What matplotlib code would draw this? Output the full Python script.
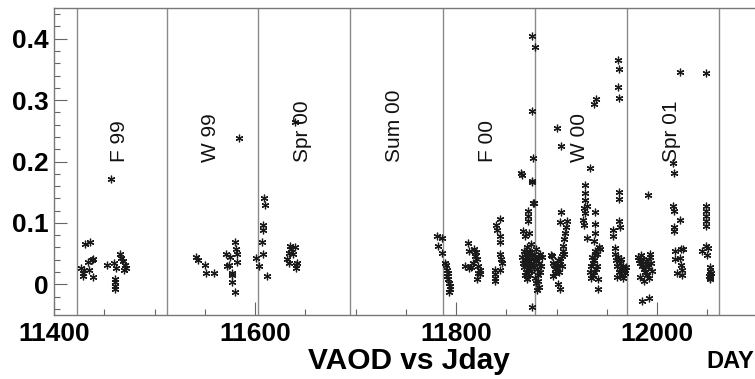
import matplotlib
matplotlib.use("Agg")
import matplotlib.pyplot as plt
from matplotlib.ticker import MultipleLocator

# ---- data (Julian day, VAOD) ----
f99_day = [11427, 11430, 11429, 11429, 11431, 11436, 11434, 11439, 11438, 11435, 11439, 11453, 11457,
           11460, 11462, 11461, 11461, 11461, 11461, 11466, 11467, 11469, 11470, 11471, 11472]
f99_val = [.027, .023, .013, .019, .066, .069, .036, .042, .039, .023, .012, .031, .172,
           .034, .027, .008, .003, -.003, -.007, .050, .043, .038, .024, .031, .027]

w99_day = [11541, 11543, 11550, 11551, 11559, 11571, 11575, 11580, 11581, 11582, 11582, 11572,
           11574, 11577, 11577, 11577, 11580, 11584]
w99_val = [.045, .040, .031, .019, .018, .049, .044, .069, .057, .050, .036, .029,
           .032, .019, .015, .003, -.012, .239]

spr00_day = [11601, 11604, 11607, 11608, 11608, 11608, 11609, 11610, 11612, 11632, 11634, 11634,
             11635, 11636, 11638, 11640, 11641, 11641, 11642, 11640]
spr00_val = [.043, .029, .069, .096, .089, .050, .141, .129, .013, .042, .034, .051,
             .062, .057, .049, .060, .032, .026, .035, .265]

f00_day = [11781, 11782, 11786, 11786, 11789, 11790, 11791, 11792, 11791, 11792, 11793, 11794, 11794, 11793,
           11809, 11812, 11813, 11813, 11817, 11818, 11819, 11821, 11821, 11822, 11822, 11824, 11824, 11815, 11820,
           11839, 11839, 11839, 11839, 11840, 11841, 11844, 11844, 11844, 11844, 11845, 11846, 11844,
           11865, 11866, 11869, 11867, 11872, 11872, 11872, 11873, 11876, 11876, 11876, 11877, 11877, 11878,
           11879, 11876, 11876,
           11866, 11867, 11868, 11868, 11869, 11870, 11870, 11871, 11871, 11872, 11872, 11873, 11873, 11874,
           11874, 11875, 11875, 11876, 11877, 11878, 11879, 11880, 11880, 11881, 11881, 11882, 11882, 11883,
           11883, 11884, 11884, 11885, 11886, 11869, 11871, 11873, 11875, 11878, 11880, 11882]
f00_val = [.079, .063, .076, .051, .035, .031, .024, .018, .013, .008, .002, -.003, -.008, -.012,
           .030, .068, .055, .026, .035, .058, .046, .041, .008, .030, .019, .024, .016, .028, .052,
           .024, .016, .005, .011, .096, .089, .107, .079, .069, .049, .042, .034, .024,
           .181, .178, .078, .086, .119, .111, .103, .084, .405, .283, .169, .205, .132, .133,
           .386, -.037, .167,
           .045, .035, .055, .028, .040, .050, .020, .033, .060, .045, .025, .038, .015, .052,
           .030, .042, .022, .048, .035, .028, .010, .040, .002, .025, -.010, .045, .015, .035,
           -.005, .050, .020, .030, .045, .015, .008, .055, .065, .050, .058, .005]

w00_day = [11895, 11896, 11897, 11898, 11899, 11900, 11901, 11901, 11903, 11903, 11904, 11903, 11905,
           11906, 11906, 11907, 11908, 11909, 11910, 11900, 11904, 11897, 11899, 11901, 11902, 11905, 11907,
           11928, 11928, 11928, 11927, 11928, 11926, 11927, 11930, 11930, 11933, 11938, 11938, 11938, 11937,
           11937, 11939, 11933, 11934, 11935, 11936, 11937, 11938, 11939, 11940, 11941, 11942, 11934, 11936,
           11938, 11940, 11943, 11941, 11937,
           11961, 11962, 11961, 11962, 11962, 11962, 11962, 11963, 11956, 11956, 11958,
           11958, 11959, 11960, 11961, 11962, 11963, 11964, 11965, 11966, 11967, 11968, 11969, 11960, 11964,
           11966, 11968]
w00_val = [.047, .046, .013, .032, .019, .027, .032, .000, .038, -.007, .118, .101, .046,
           .054, .062, .073, .084, .094, .103, .255, .225, .035, .025, .040, .020, .030, .050,
           .162, .149, .138, .124, .116, .105, .097, .127, .076, .189, .117, .099, .084, .070,
           .293, .301, .020, .030, .045, .015, .040, .055, .025, .050, .009, .060, .010, .035,
           .048, .030, .058, -.007, .020,
           .365, .351, .321, .304, .151, .139, .103, .094, .089, .078, .059,
           .050, .040, .030, .045, .020, .035, .025, .015, .030, .022, .018, .028, .012, .042,
           .010, .024]

spr01_day = [11985, 11992, 11991, 11981, 11982, 11983, 11984, 11985, 11986, 11987, 11988, 11989, 11990,
             11991, 11992, 11993, 11994, 11995, 11983, 11987, 11990, 11993,
             12016, 12017, 12016, 12017, 12023, 12017, 12017, 12018, 12018, 12024, 12023, 12024, 12025,
             12025, 12020, 12026, 12023,
             12049, 12049, 12049, 12049, 12049, 12049, 12045, 12049, 12051, 12050, 12053, 12053, 12053,
             12053, 12053, 12054, 12052]
spr01_val = [-.027, -.022, .145, .045, .040, .035, .048, .030, .042, .025, .020, .038, .015,
             .028, .010, .044, .035, .022, .012, .005, .033, .050,
             .197, .182, .127, .119, .105, .094, .086, .054, .041, .057, .043, .032, .024,
             .015, .019, .057, .346,
             .344, .127, .119, .111, .103, .095, .055, .062, .059, .047, .028, .022, .016,
             .011, .008, .018, .013]

season_bounds = [11423, 11512, 11603, 11695, 11787, 11879, 11970, 12062]
season_labels = ["F 99", "W 99", "Spr 00", "Sum 00", "F 00", "W 00", "Spr 01"]
x_ticks = [11400, 11600, 11800, 12000]
y_ticks = [0, 0.1, 0.2, 0.3, 0.4]

# ---- figure ----
fig = plt.figure(figsize=(7.55, 3.79), dpi=100)
ax = fig.add_axes([54 / 755, 64 / 379, 703.5 / 755, 307 / 379])

days = f99_day + w99_day + spr00_day + f00_day + w00_day + spr01_day
vals = f99_val + w99_val + spr00_val + f00_val + w00_val + spr01_val
ax.plot(days, vals, linestyle='none', marker=(6, 2, 0), markersize=5.5,
        markeredgewidth=0.9, color='#1a1a1a', zorder=3)

for b in season_bounds:
    ax.axvline(b, color='#8a8a8a', lw=1.0, zorder=1)

for i, lab in enumerate(season_labels):
    xm = (season_bounds[i] + season_bounds[i + 1]) / 2 - 2
    ax.text(xm, 0.2, lab, rotation=90, ha='center', va='bottom',
            fontsize=15, family='Liberation Sans', color='#111111')

ax.set_xlim(11400, 12100)
ax.set_ylim(-0.05, 0.45)
ax.set_xticks(x_ticks)
ax.set_xticklabels([str(t) for t in x_ticks])
ax.set_yticks(y_ticks)
ax.set_yticklabels(['0', '0.1', '0.2', '0.3', '0.4'])
ax.xaxis.set_minor_locator(MultipleLocator(50))
ax.yaxis.set_minor_locator(MultipleLocator(0.02))

for lab in ax.get_xticklabels() + ax.get_yticklabels():
    lab.set_fontweight('bold')
    lab.set_family('Liberation Sans')
    lab.set_fontsize(19)

ax.tick_params(axis='both', which='major', direction='in', length=9.5, width=0.8,
               color='#666666', top=False, right=False)
ax.tick_params(axis='both', which='minor', direction='in', length=4.5, width=0.8,
               color='#666666', top=False, right=False)
ax.tick_params(axis='x', which='major', pad=5)
ax.tick_params(axis='y', which='major', pad=4)

for s in ['left', 'top', 'bottom']:
    ax.spines[s].set_color('#777777')
    ax.spines[s].set_linewidth(1.0)
ax.spines['right'].set_visible(False)

fig.text(409 / 755, 10 / 379, 'VAOD vs Jday', ha='center', va='baseline',
         fontsize=21.5, fontweight='bold', family='Liberation Sans')
fig.text(706 / 755, 11 / 379, 'DAY', ha='left', va='baseline',
         fontsize=17, fontweight='bold', family='Liberation Sans')

fig.savefig('out.png', dpi=100)
